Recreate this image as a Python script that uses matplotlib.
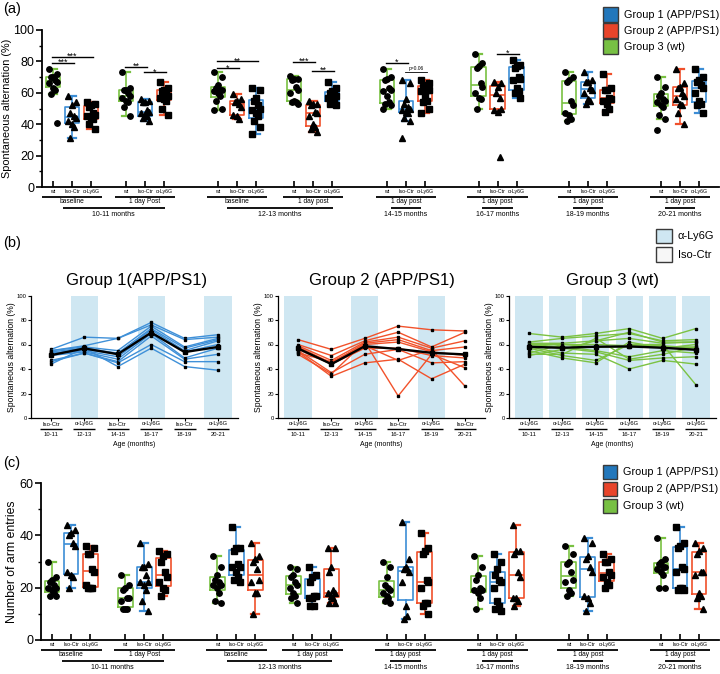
import numpy as np
import matplotlib.pyplot as plt
from matplotlib.patches import Rectangle
from matplotlib.ticker import MultipleLocator

plt.rcParams['font.family'] = ['Liberation Sans', 'DejaVu Sans']

W, H = 720, 674
GREEN = '#79C142'
BLUE = '#3C8DD5'
RED = '#F0502B'
BAND = '#CFE7F2'

# ---------------- labels
treat_labels = ['wt', 'Iso-Ctr', 'α-Ly6G']
session_labels = ['baseline', '1 day Post', 'baseline', '1 day post',
                  '1 day post', '1 day post', '1 day post', '1 day post']
age_labels = ['10-11 months', '12-13 months', '14-15 months',
              '16-17 months', '18-19 months', '20-21 months']
age_sessions = [[0, 1], [2, 3], [4], [5], [6], [7]]

# ---------------- (a) spontaneous alternation (%), one list per session
alt_wt = [
    [75, 72, 70, 70, 68, 67, 66, 63, 62, 59],
    [73, 63, 62, 62, 60, 58, 57, 55, 54, 51, 45],
    [73, 70, 65, 63, 62, 62, 61, 60, 58, 55, 50, 49],
    [71, 69, 69, 68, 64, 62, 60, 55, 54, 54, 53],
    [75, 70, 69, 68, 63, 62, 61, 58, 54, 53, 52, 50],
    [85, 79, 77, 76, 66, 64, 60, 57, 56, 50],
    [73, 70, 68, 67, 55, 52, 47, 46, 43, 42],
    [70, 64, 60, 58, 56, 55, 54, 52, 51, 46, 43],
]
alt_iso = [
    [58, 54, 52, 47, 45, 44, 42, 40, 38, 31],
    [56, 55, 54, 54, 49, 48, 47, 46, 45, 44, 42],
    [59, 56, 55, 54, 53, 51, 46, 45, 43],
    [55, 53, 53, 52, 48, 47, 45, 40, 38, 37, 35],
    [68, 66, 56, 53, 51, 50, 49, 48, 47, 44, 42],
    [67, 66, 64, 60, 57, 50, 49, 48],
    [73, 68, 67, 67, 63, 62, 60, 56, 55, 53],
    [75, 66, 64, 63, 60, 58, 56, 53, 52, 47, 40],
]
alt_ly = [
    [54, 53, 52, 51, 47, 46, 45, 44, 43, 40, 37],
    [67, 63, 62, 61, 59, 58, 57, 56, 55, 50, 46],
    [63, 62, 57, 55, 52, 50, 49, 47, 45, 42, 38, 34],
    [67, 63, 61, 60, 59, 58, 57, 55, 54, 53, 52],
    [68, 66, 65, 64, 62, 62, 61, 58, 55, 54, 50, 47],
    [81, 78, 77, 76, 70, 69, 68, 63, 61, 60, 57],
    [72, 63, 62, 62, 57, 56, 55, 53, 50, 48],
    [75, 70, 68, 67, 65, 63, 60, 55, 53, 52, 47],
]
alt_out_wt = [[41], [], [], [], [], [], [], [36]]
alt_out_iso = [[], [], [], [], [31], [19], [], []]
alt_out_ly = [[], [], [], [], [], [], [], []]
alt_iso_color = [BLUE, BLUE, RED, RED, BLUE, RED, BLUE, RED]
alt_ly_color = [RED, RED, BLUE, BLUE, RED, BLUE, RED, BLUE]
# (session, box 1, box 2, height, label)
alt_sig = [(0, 0, 2, 83, '***'), (0, 0, 1, 79, '***'),
           (1, 0, 1, 76.5, '**'), (1, 1, 2, 73, '*'),
           (2, 0, 2, 80, '**'), (2, 0, 1, 75.5, '*'),
           (3, 0, 1, 79.5, '***'), (3, 1, 2, 74, '**'),
           (4, 0, 1, 79, '*'), (4, 1, 2, 73, 'p=0.06'),
           (5, 1, 2, 85, '*')]

# ---------------- (c) number of arm entries
ent_wt = [
    [30, 24, 23, 22, 21, 20, 20, 19, 18, 17, 17],
    [25, 21, 20, 19, 16, 16, 15, 12, 12, 12],
    [32, 28, 25, 23, 22, 21, 21, 20, 18, 15, 14],
    [28, 27, 25, 24, 22, 21, 20, 18, 17, 16, 14],
    [30, 28, 24, 21, 20, 19, 18, 17, 16, 15, 14],
    [32, 28, 25, 23, 20, 19, 19, 18, 16, 12],
    [36, 33, 30, 29, 26, 23, 22, 19, 18, 17],
    [39, 31, 30, 29, 28, 28, 27, 26, 25, 20, 20],
]
ent_iso = [
    [44, 42, 41, 40, 37, 36, 26, 25, 24, 20],
    [37, 29, 28, 28, 25, 22, 22, 21, 19, 15, 11],
    [43, 35, 35, 34, 29, 28, 28, 26, 24, 23, 22],
    [28, 25, 24, 22, 17, 17, 16, 16, 13, 13],
    [45, 31, 28, 27, 27, 26, 22, 13, 9, 8],
    [33, 30, 27, 25, 23, 22, 20, 15, 13, 12, 11],
    [39, 37, 32, 31, 28, 26, 17, 16, 14, 11],
    [43, 37, 36, 35, 28, 27, 26, 20, 20, 19, 19],
]
ent_ly = [
    [36, 35, 33, 33, 27, 26, 21, 20, 20, 20],
    [34, 33, 32, 30, 26, 24, 22, 20, 19, 17],
    [37, 32, 31, 30, 27, 23, 22, 18, 18, 10],
    [35, 35, 28, 26, 19, 18, 18, 17, 16, 14, 14],
    [41, 35, 34, 33, 23, 22, 20, 14, 14, 13, 10],
    [44, 34, 34, 33, 26, 24, 16, 16, 15, 13],
    [33, 31, 30, 30, 26, 25, 24, 22, 21, 20],
    [37, 35, 34, 33, 26, 26, 25, 18, 17, 16, 12],
]
ent_iso_marker = ['^', '^', 's', 's', '^', 's', '^', 's']
ent_ly_marker = ['s', 's', '^', '^', 's', '^', 's', '^']
no_out = [[], [], [], [], [], [], [], []]

# ---------------- (b) individual animals, one list per time point
b_ages = ['10-11', '12-13', '14-15', '16-17', '18-19', '20-21']
g1_alt = [
    [56, 55, 55, 54, 53, 52, 51, 47, 46, 44],
    [66, 59, 58, 57, 56, 55, 54, 53, 53, 57],
    [65, 65, 55, 53, 52, 50, 48, 46, 45, 42],
    [78, 76, 75, 73, 72, 70, 69, 67, 60, 57],
    [65, 64, 58, 57, 55, 54, 49, 48, 46, 42],
    [68, 66, 65, 64, 63, 60, 57, 52, 46, 39],
]
g2_alt = [
    [64, 60, 59, 58, 57, 56, 55, 54, 53, 52],
    [56, 51, 47, 45, 44, 44, 37, 34, 46, 36],
    [65, 63, 62, 61, 60, 57, 52, 45, 59, 62],
    [75, 70, 66, 64, 62, 57, 56, 48, 47, 18],
    [72, 58, 57, 55, 54, 51, 45, 32, 56, 52],
    [71, 70, 63, 58, 51, 49, 46, 44, 26, 41],
]
g3_alt = [
    [69, 62, 61, 60, 60, 59, 58, 57, 55, 53, 51, 52],
    [66, 65, 61, 60, 58, 57, 53, 51, 49, 60, 56, 52],
    [69, 67, 63, 60, 55, 54, 52, 47, 45, 58, 63, 65],
    [73, 69, 65, 59, 50, 47, 40, 60, 62, 58, 70, 48],
    [65, 63, 61, 59, 55, 49, 47, 60, 57, 58, 62, 52],
    [73, 64, 62, 57, 53, 50, 44, 27, 60, 58, 62, 58],
]
b_treat = [['Iso-Ctr', 'α-Ly6G'] * 3, ['α-Ly6G', 'Iso-Ctr'] * 3, ['α-Ly6G'] * 6]

# box centres (middle box of each session) in axis units
centers = [2.0, 5.84, 10.68, 14.68, 19.58, 24.4, 29.16, 34.0]
JIT = [-0.2, 0.2, 0.0, -0.1, 0.1, 0.2, -0.2, 0.0, 0.1, -0.1, 0.2, -0.2, 0.0]

fig = plt.figure(figsize=(W / 100, H / 100), dpi=100)


def ax_at(l, t, r, b):
    return fig.add_axes([l / W, 1 - b / H, (r - l) / W, (b - t) / H])


def under(ax, x1, x2, dy, lw=1.3):
    h = ax.get_position().height * H
    ax.plot([x1, x2], [-dy / h] * 2, transform=ax.get_xaxis_transform(),
            color='k', lw=lw, clip_on=False, solid_capstyle='butt')


def under_text(ax, x, dy, s, fs):
    h = ax.get_position().height * H
    ax.text(x, -dy / h, s, transform=ax.get_xaxis_transform(),
            ha='center', va='center', fontsize=fs)


def box_panel(ax, series, colors, markers, outliers, ymax, ylabel, ylabel_fs):
    for s, c in enumerate(centers):
        for k in range(3):
            x = c + k - 1
            vals = series[k][s]
            col = colors[k][s]
            ax.boxplot([vals], positions=[x], widths=0.78, whis=(0, 100),
                       showfliers=False, manage_ticks=False, capwidths=0.4,
                       boxprops=dict(color=col, lw=1.2),
                       whiskerprops=dict(color=col, lw=1.2),
                       capprops=dict(color=col, lw=1.6),
                       medianprops=dict(color=col, lw=1.2))
            pts = list(vals) + list(outliers[k][s])
            xs = x + np.array(JIT[:len(pts)])
            ax.plot(xs, pts, ls='none', marker=markers[k][s], ms=3.9,
                    color='k', zorder=4, clip_on=False)
    ax.set_xlim(0.42, 36.05)
    ax.set_ylim(0, ymax)
    for sp in ['top', 'right']:
        ax.spines[sp].set_visible(False)
    for sp in ['left', 'bottom']:
        ax.spines[sp].set_linewidth(1.3)
    ax.yaxis.set_major_locator(MultipleLocator(20))
    ax.yaxis.set_minor_locator(MultipleLocator(10))
    ax.tick_params(axis='y', which='major', labelsize=9, length=4, width=1.2, pad=1.5)
    ax.tick_params(axis='y', which='minor', length=2.5, width=1.0)
    pos = [c + k - 1 for c in centers for k in range(3)]
    ax.set_xticks(pos, treat_labels * 8)
    ax.tick_params(axis='x', direction='in', length=4, width=1.2, labelsize=3.8, pad=1.2)
    ax.set_ylabel(ylabel, fontsize=ylabel_fs, labelpad=1)
    for s, c in enumerate(centers):
        under(ax, c - 1.6, c + 1.6, 9.5)
        under_text(ax, c, 14.5, session_labels[s], 4.8)
    for a, ss in enumerate(age_sessions):
        if len(ss) == 2:
            x1, x2 = centers[ss[0]] - 0.5, centers[ss[1]] + 1.05
        else:
            x1, x2 = centers[ss[0]] - 0.8, centers[ss[0]] + 0.8
        under(ax, x1, x2, 20.5)
        under_text(ax, (x1 + x2) / 2, 27.5, age_labels[a], 5)


def legend_box(x, y, w, h, fc, label, fs):
    fig.patches.append(Rectangle((x / W, 1 - (y + h) / H), w / W, h / H,
                                 transform=fig.transFigure, fc=fc, ec='#3a3a3a', lw=1.0))
    fig.text((x + w + 6) / W, 1 - (y + h / 2) / H, label, fontsize=fs, va='center')


# ---------------- panel (a)
axa = ax_at(42, 30, 719, 187)
box_panel(axa, [alt_wt, alt_iso, alt_ly],
          [[GREEN] * 8, alt_iso_color, alt_ly_color],
          [['o'] * 8, ['^'] * 8, ['s'] * 8],
          [alt_out_wt, alt_out_iso, alt_out_ly], 100,
          'Spontaneous alternation (%)', 7.8)
for s, k1, k2, y, lab in alt_sig:
    x1 = centers[s] + k1 - 1 - 0.05
    x2 = centers[s] + k2 - 1 + 0.1
    small = lab.startswith('p')
    axa.plot([x1, x2], [y, y], color='k', lw=0.6 if small else 1.0)
    axa.text((x1 + x2) / 2, y + (0.8 if small else -1.2), lab, ha='center',
             va='bottom' if small else 'baseline', fontsize=3.5 if small else 6.5)

# ---------------- panel (c)
axc = ax_at(41, 483, 719, 640)
box_panel(axc, [ent_wt, ent_iso, ent_ly],
          [[GREEN] * 8, [BLUE] * 8, [RED] * 8],
          [['o'] * 8, ent_iso_marker, ent_ly_marker],
          [no_out, no_out, no_out], 60, 'Number of arm entries', 8.8)

# ---------------- panel (b)
b_left = [31, 278, 509]
b_titles = ['Group 1(APP/PS1)', 'Group 2 (APP/PS1)', 'Group 3 (wt)']
b_title_x = [137, 382, 613]
b_colors = ['#3F90D8', '#F2522B', '#7CC243']
b_data = [g1_alt, g2_alt, g3_alt]
tp = np.arange(1, 7)
for g in range(3):
    ax = ax_at(b_left[g], 295.5, b_left[g] + 207, 418)
    ax.set_xlim(0.4, 6.6)
    ax.set_ylim(0, 100)
    for t, tr in enumerate(b_treat[g]):
        if tr == 'α-Ly6G':
            ax.axvspan(t + 1 - 0.41, t + 1 + 0.41, color=BAND, lw=0, zorder=0)
    data = np.array(b_data[g], dtype=float)
    for i in range(data.shape[1]):
        ax.plot(tp, data[:, i], color=b_colors[g], lw=1.0, marker='s', ms=1.8,
                mfc='k', mec='k', zorder=2)
    ax.plot(tp, data.mean(axis=1), color='k', lw=1.7, marker='s', ms=2.4, zorder=3)
    for sp in ['top', 'right']:
        ax.spines[sp].set_visible(False)
    for sp in ['left', 'bottom']:
        ax.spines[sp].set_linewidth(0.9)
    ax.set_yticks(np.arange(0, 101, 20))
    ax.set_xticks(tp, [''] * 6)
    ax.tick_params(axis='y', labelsize=4.2, length=2, width=0.8, pad=1)
    ax.tick_params(axis='x', length=2, width=0.8)
    ax.set_ylabel('Spontaneous alternation (%)', fontsize=6.2, labelpad=1)
    for t in range(6):
        under_text(ax, t + 1, 6, b_treat[g][t], 4.2)
        under(ax, t + 1 - 0.33, t + 1 + 0.33, 11, lw=1.0)
        under_text(ax, t + 1, 16.5, b_ages[t], 4.2)
    under_text(ax, 3.5, 26, 'Age (months)', 5)
    fig.text(b_title_x[g] / W, 1 - 280 / H, b_titles[g], fontsize=12,
             ha='center', va='center')

# ---------------- legends and panel letters
legend_box(603, 7, 15, 15, '#2277BB', 'Group 1 (APP/PS1)', 7.8)
legend_box(603, 23, 15, 15, '#E8442A', 'Group 2 (APP/PS1)', 7.8)
legend_box(603, 39, 15, 15, '#77C043', 'Group 3 (wt)', 7.8)
legend_box(656, 229, 16, 14, BAND, 'α-Ly6G', 8)
legend_box(656, 247, 16, 15, '#F7F7F7', 'Iso-Ctr', 8)
legend_box(603, 465, 14, 14, '#2277BB', 'Group 1 (APP/PS1)', 7.8)
legend_box(603, 482, 14, 14, '#E8442A', 'Group 2 (APP/PS1)', 7.8)
legend_box(603, 499, 14, 14, '#77C043', 'Group 3 (wt)', 7.8)

for lab, y in [('(a)', 9), ('(b)', 243), ('(c)', 463)]:
    fig.text(3 / W, 1 - y / H, lab, fontsize=10.5, va='center')

fig.savefig('out.png', dpi=100)
